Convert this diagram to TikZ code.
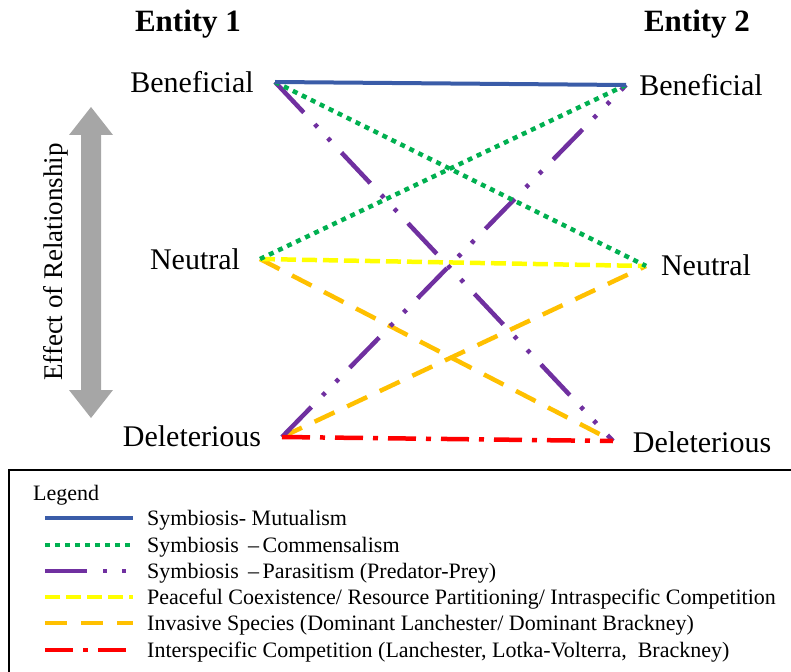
\documentclass[tikz,border=0pt]{standalone}
\usepackage{fontspec}
\setmainfont{Liberation Serif}
\definecolor{mutblue}{RGB}{58,92,168}
\definecolor{comgreen}{RGB}{0,176,80}
\definecolor{parpurple}{RGB}{112,48,160}
\definecolor{peaceyellow}{RGB}{255,255,0}
\definecolor{invorange}{RGB}{255,192,0}
\definecolor{interred}{RGB}{255,0,0}
\definecolor{axisgray}{RGB}{166,166,166}
\tikzset{
  lab/.style={font=\fontsize{30}{35}\selectfont, inner sep=0pt, anchor=base},
  entityhead/.style={font=\bfseries\fontsize{31}{37}\selectfont, inner sep=0pt, anchor=base},
  legtext/.style={font=\fontsize{22}{26}\selectfont, inner sep=0pt, anchor=base west},
  rel/.style={line width=4.5pt, line cap=butt},
  mutual/.style={rel, draw=mutblue, line width=4pt},
  commens/.style={rel, draw=comgreen, dash pattern=on 5pt off 5pt},
  parasit/.style={rel, draw=parpurple, dash pattern=on 42pt off 16pt on 4pt off 15pt on 4pt off 16pt},
  peace/.style={rel, draw=peaceyellow, dash pattern=on 15pt off 6pt},
  invasive/.style={rel, draw=invorange, dash pattern=on 22pt off 14pt},
  interspec/.style={rel, draw=interred, dash pattern=on 28pt off 10pt on 5pt off 10pt},
}
\begin{document}
\begin{tikzpicture}[x=1pt,y=-1pt]
\useasboundingbox (0,0) rectangle (791,671);
\clip (0,0) rectangle (791,671);

% column headings
\node[entityhead] (e1) at (188,32) {Entity 1};
\node[entityhead] (e2) at (697,32) {Entity 2};

% effect labels
\node[lab] (lben) at (192,93) {Beneficial};
\node[lab] (lneu) at (195,269) {Neutral};
\node[lab] (ldel) at (192,446) {Deleterious};
\node[lab] (rben) at (701,96) {Beneficial};
\node[lab] (rneu) at (706,275) {Neutral};
\node[lab] (rdel) at (702,452) {Deleterious};

% end points of the relationship lines
\coordinate (pb1) at (275,82);
\coordinate (pn1) at (260,259);
\coordinate (pd1) at (282,437);
\coordinate (pb2) at (626,85);
\coordinate (pn2) at (646,266);
\coordinate (pd2) at (613,441);

% relationship lines
\draw[invasive] (pn1) -- (pd2);
\draw[invasive] (pd1) -- (pn2);
\draw[peace] (pn1) -- (pn2);
\draw[parasit] (pb1) -- (pd2);
\draw[parasit] (pd1) -- (pb2);
\draw[commens] (pb1) -- (pn2);
\draw[commens] (pn1) -- (pb2);
\draw[interspec] (pd1) -- (pd2);
\draw[mutual] (pb1) -- (pb2);

% vertical double arrow
\fill[axisgray] (91,107) -- (113,135) -- (101,135) -- (101,390) -- (113,390)
  -- (91,418) -- (69,390) -- (81,390) -- (81,135) -- (69,135) -- cycle;
\node[font=\fontsize{27}{32}\selectfont, rotate=90, inner sep=0pt] (axis) at (56,262) {Effect of Relationship};

% legend
\draw[line width=1.5pt] (800,470) -- (9,470) -- (9,680);
\node[legtext] (legtitle) at (33,500) {Legend};
\foreach \y/\sty/\txt [count=\i] in {
  518/mutual/{Symbiosis- Mutualism},
  545/commens/{Symbiosis \,–\,Commensalism},
  571/parasit/{Symbiosis \,–\,Parasitism (Predator-Prey)},
  597/peace/{Peaceful Coexistence/ Resource Partitioning/ Intraspecific Competition},
  623/invasive/{Invasive Species (Dominant Lanchester/ Dominant Brackney)},
  650/interspec/{Interspecific Competition (Lanchester, Lotka-Volterra, \ Brackney)}} {
  \coordinate (ls\i) at (45,\y);
  \coordinate (le\i) at (133,\y);
  \draw[\sty] (ls\i) -- (le\i);
  \node[legtext] (lt\i) at (147,\y+7) {\txt};
}
\end{tikzpicture}
\end{document}
